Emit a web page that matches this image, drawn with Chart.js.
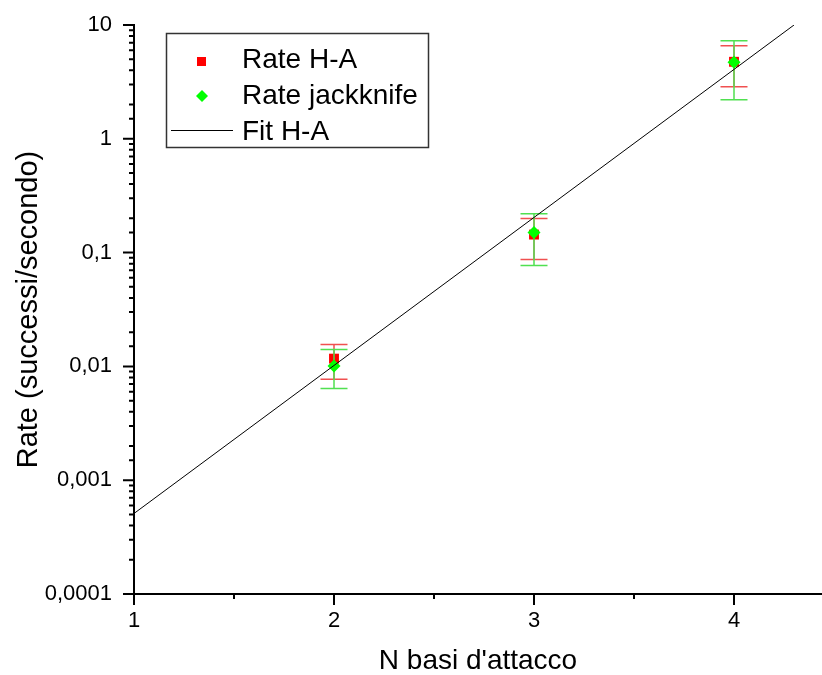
<!DOCTYPE html>
<html>
<head>
<meta charset="utf-8">
<script src="https://cdn.jsdelivr.net/npm/chart.js@4"></script>
<style>
  body { margin: 0; background: #fff; }
  #wrap { width: 822px; height: 675px; }
</style>
</head>
<body>
<div id="wrap"><canvas id="grafico" width="822" height="675"></canvas></div>
<script>
// dati
const nBasi = [2, 3, 4];
const rateHA = [0.0117, 0.144, 4.75];
const haLow = [0.0077, 0.087, 2.86];
const haHigh = [0.0156, 0.199, 6.57];
const rateJK = [0.0101, 0.150, 4.70];
const jkLow = [0.0064, 0.077, 2.20];
const jkHigh = [0.0141, 0.220, 7.26];
const fitX = [1, 4.3];
const fitY = [0.00051, 10];
const yTickValues = [0.0001, 0.001, 0.01, 0.1, 1, 10];
const yTickLabels = ['0,0001', '0,001', '0,01', '0,1', '1', '10'];
const xTickLabels = ['1', '2', '3', '4'];

const FONT = "'Liberation Sans', Arial, sans-serif";

function isPow10(v) {
    const e = Math.log10(v);
    return Math.abs(e - Math.round(e)) < 1e-6;
}

// barre di errore, disegnate prima dei marker di ogni serie
const errorBars = {
    'Rate H-A': { lo: haLow, hi: haHigh, color: '#f05050' },
    'Rate jackknife': { lo: jkLow, hi: jkHigh, color: '#50e050' }
};

const errorBarPlugin = {
    id: 'errorBars',
    beforeDatasetDraw(chart, args) {
        const ds = chart.data.datasets[args.index];
        const eb = errorBars[ds.label];
        if (!eb) return;
        const xs = chart.scales.x, ys = chart.scales.y;
        const ctx = chart.ctx;
        ctx.save();
        ctx.strokeStyle = eb.color;
        ctx.lineWidth = 1.5;
        ds.data.forEach((p, i) => {
            const px = xs.getPixelForValue(p.x);
            const yl = ys.getPixelForValue(eb.lo[i]);
            const yh = ys.getPixelForValue(eb.hi[i]);
            ctx.beginPath();
            ctx.moveTo(px, yl); ctx.lineTo(px, yh);
            ctx.moveTo(px - 13.5, yl); ctx.lineTo(px + 13.5, yl);
            ctx.moveTo(px - 13.5, yh); ctx.lineTo(px + 13.5, yh);
            ctx.stroke();
        });
        ctx.restore();
    }
};

// tacche degli assi: principali lunghe, secondarie corte
const tickPlugin = {
    id: 'tacche',
    afterDraw(chart) {
        const ctx = chart.ctx;
        const xs = chart.scales.x, ys = chart.scales.y;
        const area = chart.chartArea;
        ctx.save();
        ctx.strokeStyle = '#000';
        ctx.lineWidth = 2;
        ctx.beginPath();
        ys.ticks.forEach(t => {
            const py = ys.getPixelForValue(t.value);
            const len = isPow10(t.value) ? 11 : 5;
            ctx.moveTo(area.left - len, py); ctx.lineTo(area.left, py);
        });
        xs.ticks.forEach(t => {
            const px = xs.getPixelForValue(t.value);
            const len = Number.isInteger(t.value) ? 11 : 5;
            ctx.moveTo(px, area.bottom); ctx.lineTo(px, area.bottom + len);
        });
        ctx.stroke();
        ctx.restore();
    }
};

// legenda nel riquadro
const legendPlugin = {
    id: 'legenda',
    afterDraw(chart) {
        const ctx = chart.ctx;
        ctx.save();
        ctx.strokeStyle = '#333';
        ctx.lineWidth = 1.5;
        ctx.strokeRect(166.5, 33.5, 262, 114);
        ctx.fillStyle = '#ff0000';
        ctx.fillRect(197, 57, 9, 9);
        ctx.fillStyle = '#00ff00';
        ctx.beginPath();
        ctx.moveTo(202, 90); ctx.lineTo(208, 96); ctx.lineTo(202, 102); ctx.lineTo(196, 96);
        ctx.closePath(); ctx.fill();
        ctx.strokeStyle = '#000';
        ctx.lineWidth = 1;
        ctx.beginPath(); ctx.moveTo(171, 130.5); ctx.lineTo(233, 130.5); ctx.stroke();
        ctx.fillStyle = '#000';
        ctx.font = '28px ' + FONT;
        ctx.textBaseline = 'alphabetic';
        ctx.fillText(chart.data.datasets[0].label, 242, 68);
        ctx.fillText(chart.data.datasets[1].label, 242, 104);
        ctx.fillText(chart.data.datasets[2].label, 242, 140);
        ctx.restore();
    }
};

const ctx = document.getElementById('grafico').getContext('2d');
new Chart(ctx, {
    type: 'scatter',
    data: {
        datasets: [{
            label: 'Rate H-A',
            data: nBasi.map((x, i) => ({ x: x, y: rateHA[i] })),
            pointStyle: 'rect',
            pointRadius: 7,
            backgroundColor: '#ff0000',
            borderWidth: 0,
            order: 3
        }, {
            label: 'Rate jackknife',
            data: nBasi.map((x, i) => ({ x: x, y: rateJK[i] })),
            pointStyle: 'rectRot',
            pointRadius: 6.5,
            backgroundColor: '#00ff00',
            borderWidth: 0,
            order: 2
        }, {
            label: 'Fit H-A',
            type: 'line',
            data: fitX.map((x, i) => ({ x: x, y: fitY[i] })),
            borderColor: '#000',
            borderWidth: 1,
            pointRadius: 0,
            fill: false,
            order: 1
        }]
    },
    options: {
        responsive: false,
        animation: false,
        events: [],
        layout: { autoPadding: false, padding: { top: 25, right: 0, left: 0, bottom: 0 } },
        plugins: { legend: { display: false }, tooltip: { enabled: false } },
        scales: {
            x: {
                type: 'linear',
                min: 1,
                max: 4.44,
                grid: { display: false, drawTicks: false },
                border: { display: true, color: '#000', width: 2 },
                ticks: {
                    stepSize: 0.5,
                    includeBounds: false,
                    autoSkip: false,
                    maxRotation: 0,
                    padding: 14,
                    color: '#000',
                    font: { family: FONT, size: 22 },
                    callback: v => Number.isInteger(v) ? xTickLabels[v - 1] : ''
                },
                title: {
                    display: true,
                    text: "N basi d'attacco",
                    color: '#000',
                    font: { family: FONT, size: 28, lineHeight: 1 },
                    padding: { top: 0, bottom: 0 }
                },
                afterFit: s => { s.height = 81; s.paddingLeft = 0; s.paddingRight = 0; }
            },
            y: {
                type: 'logarithmic',
                min: 0.0001,
                max: 10,
                grid: { display: false, drawTicks: false },
                border: { display: true, color: '#000', width: 2 },
                ticks: {
                    autoSkip: false,
                    padding: 22,
                    color: '#000',
                    font: { family: FONT, size: 22 },
                    callback: v => {
                        if (!isPow10(v)) return '';
                        const k = yTickValues.findIndex(t => Math.abs(Math.log10(t) - Math.log10(v)) < 1e-6);
                        return k >= 0 ? yTickLabels[k] : '';
                    }
                },
                title: {
                    display: true,
                    text: 'Rate (successi/secondo)',
                    color: '#000',
                    font: { family: FONT, size: 29, lineHeight: 1 },
                    padding: { top: 14, bottom: 0 }
                },
                afterFit: s => { s.width = 134; s.paddingTop = 0; s.paddingBottom = 0; }
            }
        }
    },
    plugins: [errorBarPlugin, tickPlugin, legendPlugin]
});
</script>
</body>
</html>
